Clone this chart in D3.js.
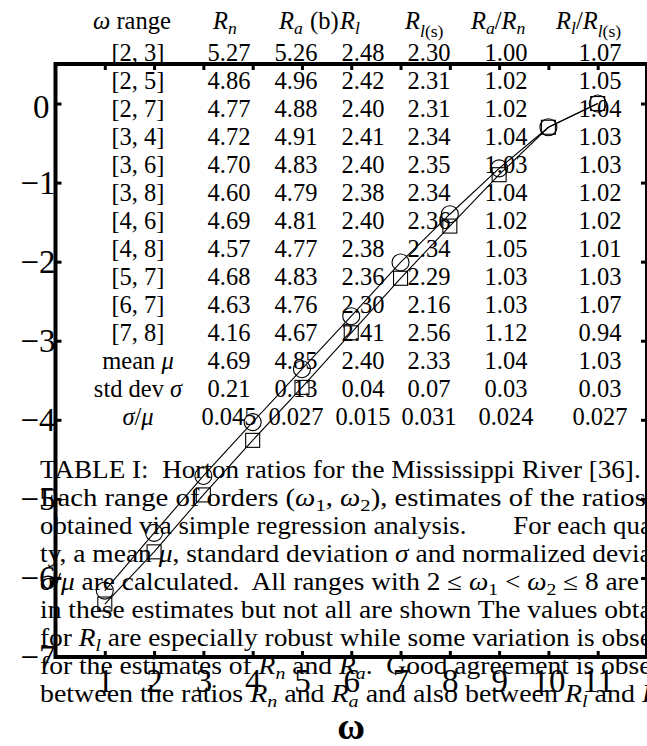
<!DOCTYPE html>
<html>
<head>
<meta charset="utf-8">
<script src="https://cdn.jsdelivr.net/npm/d3@7"></script>
<style>
  body { margin: 0; background: #fff; }
  text { white-space: pre; }
</style>
</head>
<body>
<div id="chart"></div>
<script>
// series of the plot (log values vs order)
const orders = [1, 2, 3, 4, 5, 6, 7, 8, 9, 10, 11];
const circleVals = [-6.16, -5.43, -4.71, -4.03, -3.36, -2.69, -2.01, -1.40, -0.82, -0.30, 0.0];
const squareVals = [-6.33, -5.67, -4.95, -4.26, -3.59, -2.90, -2.21, -1.55, -0.90, -0.30, 0.0];
const yTicks = [0, -1, -2, -3, -4, -5, -6, -7];

// table of Horton ratios
const ranges = ['[2, 3]', '[2, 5]', '[2, 7]', '[3, 4]', '[3, 6]', '[3, 8]', '[4, 6]',
                '[4, 8]', '[5, 7]', '[6, 7]', '[7, 8]'];
const Rn    = ['5.27', '4.86', '4.77', '4.72', '4.70', '4.60', '4.69', '4.57', '4.68', '4.63', '4.16'];
const Ra    = ['5.26', '4.96', '4.88', '4.91', '4.83', '4.79', '4.81', '4.77', '4.83', '4.76', '4.67'];
const Rl    = ['2.48', '2.42', '2.40', '2.41', '2.40', '2.38', '2.40', '2.38', '2.36', '2.30', '2.41'];
const Rls   = ['2.30', '2.31', '2.31', '2.34', '2.35', '2.34', '2.36', '2.34', '2.29', '2.16', '2.56'];
const RaRn  = ['1.00', '1.02', '1.02', '1.04', '1.03', '1.04', '1.02', '1.05', '1.03', '1.03', '1.12'];
const RlRls = ['1.07', '1.05', '1.04', '1.03', '1.03', '1.02', '1.02', '1.01', '1.03', '1.07', '0.94'];
const statLabels = [[{t: 'mean '}, {t: 'μ', it: 1}], [{t: 'std dev '}, {t: 'σ', it: 1}],
                    [{t: 'σ', it: 1}, {t: '/'}, {t: 'μ', it: 1}]];
const statRows = [
    ['4.69', '4.85', '2.40', '2.33', '1.04', '1.03'],
    ['0.21', '0.13', '0.04', '0.07', '0.03', '0.03'],
    ['0.045', '0.027', '0.015', '0.031', '0.024', '0.027']
];

const R = s => ({t: 'R', it: 1, sub: s});
const header = [
    [{t: 'ω', it: 1}, {t: ' range'}],
    [R('n')], [R('a')], [{t: '(b)'}], [R('l')], [R('l(s)')],
    [R('a'), {t: '/'}, R('n')],
    [R('l'), {t: '/'}, R('l(s)')]
];

const w1 = {t: 'ω', it: 1, sub: '1', subRoman: 1};
const w2 = {t: 'ω', it: 1, sub: '2', subRoman: 1};
const caption = [
    [{t: 'TABLE I:  Horton ratios for the Mississippi River [36].'}],
    [{t: 'Each range of orders ('}, w1, {t: ', '}, w2, {t: '), estimates of the ratios'}],
    [{t: 'obtained via simple regression analysis.       For each qua'}],
    [{t: 'ty, a mean '}, {t: 'μ', it: 1}, {t: ', standard deviation '}, {t: 'σ', it: 1}, {t: ' and normalized devia'}],
    [{t: 'σ', it: 1}, {t: '/'}, {t: 'μ', it: 1}, {t: ' are calculated.  All ranges with 2 ≤ '}, w1, {t: ' < '}, w2, {t: ' ≤ 8 are'}],
    [{t: 'in these estimates but not all are shown The values obta'}],
    [{t: 'for '}, R('l'), {t: ' are especially robust while some variation is obse'}],
    [{t: 'for the estimates of '}, R('n'), {t: ' and '}, R('a'), {t: '.  Good agreement is obse'}],
    [{t: 'between the ratios '}, R('n'), {t: ' and '}, R('a'), {t: ' and also between '}, R('l'), {t: ' and '}, R('l(s)')]
];

// layout
const W = 647, H = 746;
const serif = '"Liberation Serif", "Times New Roman", serif';
const headerX = [93, 213, 279, 310, 340, 405, 471, 556];
const colX = [138, 229, 296, 363, 429, 506, 600];
const captionEnd = [641, 646, 652, 652, 639, 652, 652, 652, 686];

const svg = d3.select('#chart').append('svg')
    .attr('width', W)
    .attr('height', H)
    .style('font-family', serif);

const x = d3.scaleLinear().domain([0, 12]).range([55.5, 647]);
const y = d3.scaleLinear().domain([-7, 0.5]).range([657, 64]);

// writes text parts (italic letters, subscripts) into a <text>
function rich(sel, parts) {
    let shift = 0;
    parts.forEach(p => {
        sel.append('tspan')
            .attr('dy', shift ? -shift : null)
            .attr('font-style', p.it ? 'italic' : null)
            .text(p.t);
        shift = 0;
        if (p.sub) {
            if (p.sub === 'l(s)') {
                sel.append('tspan').attr('dy', 8).attr('font-size', '0.72em')
                    .attr('font-style', 'italic').text('l');
                sel.append('tspan').attr('font-size', '0.72em').text('(s)');
                shift = 8;
            } else {
                sel.append('tspan').attr('dy', 5).attr('font-size', '0.72em')
                    .attr('font-style', p.subRoman ? null : 'italic').text(p.sub);
                shift = 5;
            }
        }
    });
}

// plot lines and markers
const line = d3.line().x((d, i) => x(orders[i])).y(d => y(d));
const plot = svg.append('g');
[circleVals, squareVals].forEach(vals => {
    plot.append('path')
        .attr('d', line(vals))
        .attr('fill', 'none')
        .attr('stroke', '#000')
        .attr('stroke-width', 1.1);
});
plot.selectAll('.circ')
    .data(circleVals)
    .join('circle')
    .attr('cx', (d, i) => x(orders[i]))
    .attr('cy', d => y(d))
    .attr('r', 8.5)
    .attr('fill', 'none')
    .attr('stroke', '#000')
    .attr('stroke-width', 1.1);
plot.selectAll('.sq')
    .data(squareVals)
    .join('rect')
    .attr('x', (d, i) => x(orders[i]) - 7)
    .attr('y', d => y(d) - 7)
    .attr('width', 14)
    .attr('height', 14)
    .attr('fill', 'none')
    .attr('stroke', '#000')
    .attr('stroke-width', 1.1);

// axes with inward ticks on all four sides
const axes = [
    [d3.axisBottom(x).tickValues(orders), `translate(0,${y(-7)})`],
    [d3.axisTop(x).tickValues(orders).tickFormat(''), `translate(0,${y(0.5)})`],
    [d3.axisLeft(y).tickValues(yTicks), `translate(${x(0)},0)`],
    [d3.axisRight(y).tickValues(yTicks).tickFormat(''), `translate(${x(12)},0)`]
];
axes.forEach(([ax, tr]) => {
    const g = svg.append('g')
        .attr('transform', tr)
        .call(ax.tickSizeInner(-6).tickSizeOuter(0).tickPadding(0))
        .attr('font-family', null)
        .attr('font-size', null);
    g.select('.domain').remove();
    g.selectAll('.tick line').attr('stroke-width', 3);
    g.selectAll('text').style('font-family', serif).style('font-size', '33px').attr('fill', '#000');
});
svg.selectAll('.tick text').filter(function () { return this.textContent && +this.textContent >= 1; })
    .attr('dy', null).attr('y', 35);
svg.selectAll('.tick text').filter(function () { return this.textContent !== '' && +this.textContent <= 0; })
    .attr('dy', null).attr('x', -6).attr('y', 14);

svg.append('rect')
    .attr('x', x(0))
    .attr('y', y(0.5))
    .attr('width', x(12) - x(0))
    .attr('height', y(-7) - y(0.5))
    .attr('fill', 'none')
    .attr('stroke', '#000')
    .attr('stroke-width', 4);

svg.append('text')
    .attr('x', (x(0) + x(12)) / 2)
    .attr('y', 739)
    .attr('text-anchor', 'middle')
    .attr('font-size', 38)
    .attr('font-weight', 'bold')
    .text('ω');

// the table over the plot
const table = svg.append('g').attr('font-size', 24.5).attr('fill', '#000');
header.forEach((parts, i) => {
    rich(table.append('text').attr('x', headerX[i]).attr('y', 29), parts);
});
const rows = ranges.map((r, i) => [r, Rn[i], Ra[i], Rl[i], Rls[i], RaRn[i], RlRls[i]]);
rows.forEach((row, r) => {
    row.forEach((v, c) => {
        table.append('text')
            .attr('x', colX[c])
            .attr('y', 61 + r * 28)
            .attr('text-anchor', 'middle')
            .text(v);
    });
});
statRows.forEach((row, k) => {
    const yy = 61 + (rows.length + k) * 28;
    rich(table.append('text').attr('x', colX[0]).attr('y', yy).attr('text-anchor', 'middle'), statLabels[k]);
    row.forEach((v, c) => {
        table.append('text')
            .attr('x', colX[c + 1])
            .attr('y', yy)
            .attr('text-anchor', 'middle')
            .text(v);
    });
});

// caption, stretched to the justified line widths of the page
caption.forEach((parts, i) => {
    const t = table.append('text').attr('x', 40).attr('y', 478 + i * 28);
    rich(t, parts);
    const len = t.node().getComputedTextLength();
    const k = (captionEnd[i] - 40) / len;
    t.attr('transform', `translate(40,0) scale(${k},1) translate(-40,0)`);
});
</script>
</body>
</html>
